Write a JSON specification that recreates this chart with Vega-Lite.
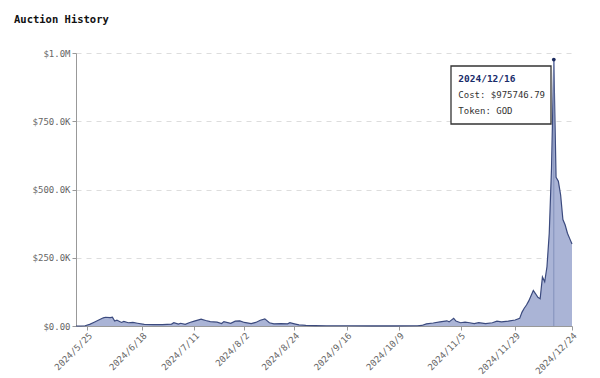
{
  "$schema": "https://vega.github.io/schema/vega-lite/v6.json",
  "width": 496,
  "height": 273,
  "autosize": {"type": "none"},
  "padding": {"left": 76, "top": 53, "right": 28, "bottom": 52},
  "background": "white",
  "title": {
    "text": "Auction History",
    "anchor": "start",
    "frame": "group",
    "dx": -62,
    "offset": 24,
    "font": "DejaVu Sans Mono",
    "fontSize": 10.5,
    "fontWeight": "bold",
    "color": "#111111"
  },
  "config": {
    "view": {"stroke": null},
    "axis": {
      "labelFont": "DejaVu Sans Mono",
      "labelColor": "#666666",
      "domainColor": "#999999",
      "tickColor": "#999999",
      "tickSize": 4,
      "labelPadding": 2
    }
  },
  "data": {
    "values": [
      {"date": "2024-05-20", "cost": 0},
      {"date": "2024-05-22", "cost": 0},
      {"date": "2024-05-24", "cost": 1000},
      {"date": "2024-05-26", "cost": 6000},
      {"date": "2024-05-28", "cost": 14000},
      {"date": "2024-05-30", "cost": 22000},
      {"date": "2024-06-01", "cost": 30000},
      {"date": "2024-06-02", "cost": 32000},
      {"date": "2024-06-04", "cost": 31000},
      {"date": "2024-06-05", "cost": 32000},
      {"date": "2024-06-06", "cost": 18000},
      {"date": "2024-06-07", "cost": 21000},
      {"date": "2024-06-09", "cost": 13000},
      {"date": "2024-06-10", "cost": 17000},
      {"date": "2024-06-12", "cost": 12000},
      {"date": "2024-06-14", "cost": 13000},
      {"date": "2024-06-16", "cost": 10000},
      {"date": "2024-06-19", "cost": 6000},
      {"date": "2024-06-23", "cost": 5000},
      {"date": "2024-06-27", "cost": 5000},
      {"date": "2024-07-01", "cost": 7000},
      {"date": "2024-07-02", "cost": 12000},
      {"date": "2024-07-04", "cost": 7000},
      {"date": "2024-07-05", "cost": 10000},
      {"date": "2024-07-07", "cost": 6000},
      {"date": "2024-07-09", "cost": 13000},
      {"date": "2024-07-11", "cost": 18000},
      {"date": "2024-07-14", "cost": 25000},
      {"date": "2024-07-16", "cost": 20000},
      {"date": "2024-07-18", "cost": 16000},
      {"date": "2024-07-21", "cost": 14000},
      {"date": "2024-07-23", "cost": 9000},
      {"date": "2024-07-24", "cost": 16000},
      {"date": "2024-07-27", "cost": 10000},
      {"date": "2024-07-29", "cost": 18000},
      {"date": "2024-07-31", "cost": 19000},
      {"date": "2024-08-02", "cost": 13000},
      {"date": "2024-08-05", "cost": 9000},
      {"date": "2024-08-07", "cost": 13000},
      {"date": "2024-08-09", "cost": 21000},
      {"date": "2024-08-11", "cost": 26000},
      {"date": "2024-08-13", "cost": 12000},
      {"date": "2024-08-15", "cost": 8000},
      {"date": "2024-08-18", "cost": 9000},
      {"date": "2024-08-21", "cost": 8000},
      {"date": "2024-08-22", "cost": 12000},
      {"date": "2024-08-24", "cost": 8000},
      {"date": "2024-08-26", "cost": 4000},
      {"date": "2024-08-29", "cost": 2000},
      {"date": "2024-09-02", "cost": 1500},
      {"date": "2024-09-07", "cost": 1000},
      {"date": "2024-09-17", "cost": 1000},
      {"date": "2024-09-27", "cost": 800},
      {"date": "2024-10-07", "cost": 800},
      {"date": "2024-10-17", "cost": 1000},
      {"date": "2024-10-19", "cost": 2000},
      {"date": "2024-10-21", "cost": 8000},
      {"date": "2024-10-24", "cost": 11000},
      {"date": "2024-10-27", "cost": 15000},
      {"date": "2024-10-30", "cost": 19000},
      {"date": "2024-10-31", "cost": 15000},
      {"date": "2024-11-02", "cost": 28000},
      {"date": "2024-11-03", "cost": 18000},
      {"date": "2024-11-05", "cost": 12000},
      {"date": "2024-11-07", "cost": 14000},
      {"date": "2024-11-09", "cost": 12000},
      {"date": "2024-11-11", "cost": 9000},
      {"date": "2024-11-13", "cost": 12000},
      {"date": "2024-11-16", "cost": 9000},
      {"date": "2024-11-19", "cost": 12000},
      {"date": "2024-11-21", "cost": 18000},
      {"date": "2024-11-23", "cost": 15000},
      {"date": "2024-11-26", "cost": 18000},
      {"date": "2024-11-29", "cost": 22000},
      {"date": "2024-12-01", "cost": 28000},
      {"date": "2024-12-02", "cost": 50000},
      {"date": "2024-12-03", "cost": 65000},
      {"date": "2024-12-04", "cost": 77000},
      {"date": "2024-12-05", "cost": 92000},
      {"date": "2024-12-07", "cost": 130000},
      {"date": "2024-12-08", "cost": 118000},
      {"date": "2024-12-09", "cost": 105000},
      {"date": "2024-12-10", "cost": 100000},
      {"date": "2024-12-11", "cost": 180000},
      {"date": "2024-12-12", "cost": 162000},
      {"date": "2024-12-13", "cost": 217000},
      {"date": "2024-12-14", "cost": 340000},
      {"date": "2024-12-15", "cost": 580000},
      {"date": "2024-12-16", "cost": 975746.79, "token": "GOD"},
      {"date": "2024-12-17", "cost": 545000},
      {"date": "2024-12-18", "cost": 530000},
      {"date": "2024-12-19", "cost": 480000},
      {"date": "2024-12-20", "cost": 390000},
      {"date": "2024-12-21", "cost": 370000},
      {"date": "2024-12-22", "cost": 340000},
      {"date": "2024-12-23", "cost": 320000},
      {"date": "2024-12-24", "cost": 300000}
    ]
  },
  "encoding": {
    "x": {
      "field": "date",
      "type": "temporal",
      "title": null,
      "scale": {
        "type": "utc",
        "nice": false,
        "domain": [
          {"year": 2024, "month": 5, "date": 20, "utc": true},
          {"year": 2024, "month": 12, "date": 24, "utc": true}
        ]
      },
      "axis": {
        "values": [
          {"year": 2024, "month": 5, "date": 25, "utc": true},
          {"year": 2024, "month": 6, "date": 18, "utc": true},
          {"year": 2024, "month": 7, "date": 11, "utc": true},
          {"year": 2024, "month": 8, "date": 2, "utc": true},
          {"year": 2024, "month": 8, "date": 24, "utc": true},
          {"year": 2024, "month": 9, "date": 16, "utc": true},
          {"year": 2024, "month": 10, "date": 9, "utc": true},
          {"year": 2024, "month": 11, "date": 5, "utc": true},
          {"year": 2024, "month": 11, "date": 29, "utc": true},
          {"year": 2024, "month": 12, "date": 24, "utc": true}
        ],
        "format": "%Y/%-m/%-d",
        "labelAngle": -45,
        "labelFontSize": 9,
        "labelPadding": 1,
        "grid": false,
        "labelOverlap": false,
        "labelBound": false,
        "labelFlush": false
      }
    },
    "y": {
      "field": "cost",
      "type": "quantitative",
      "title": null,
      "scale": {"domain": [0, 1000000], "nice": false},
      "axis": {
        "values": [0, 250000, 500000, 750000, 1000000],
        "labelExpr": "datum.value == 0 ? '$0.00' : datum.value >= 1000000 ? '$' + format(datum.value / 1000000, '.1f') + 'M' : '$' + format(datum.value / 1000, '.1f') + 'K'",
        "labelFontSize": 9,
        "grid": true,
        "gridColor": "#dddddd",
        "gridDash": [5, 5]
      }
    }
  },
  "layer": [
    {
      "mark": {"type": "area", "color": "#aab4d6", "opacity": 1, "interpolate": "linear"}
    },
    {
      "mark": {"type": "line", "color": "#3b4a7e", "strokeWidth": 1.2, "interpolate": "linear"}
    },
    {
      "transform": [{"filter": "datum.token == 'GOD'"}],
      "mark": {"type": "rule", "color": "#8290bb", "strokeWidth": 1},
      "encoding": {"y2": {"datum": 0}}
    },
    {
      "transform": [{"filter": "datum.token == 'GOD'"}],
      "mark": {"type": "point", "filled": true, "color": "#1b2a5e", "size": 14, "opacity": 1}
    },
    {
      "transform": [{"filter": "datum.token == 'GOD'"}],
      "mark": {
        "type": "point",
        "shape": "M-2.056,0.128H-0.056V1.288H-2.056Z",
        "size": 10000,
        "filled": false,
        "fill": "white",
        "fillOpacity": 1,
        "stroke": "#333333",
        "strokeWidth": 1.3,
        "opacity": 1
      }
    },
    {
      "transform": [{"filter": "datum.token == 'GOD'"}],
      "mark": {"type": "text", "text": "2024/12/16", "align": "left", "baseline": "middle", "dx": -95.5, "dy": 19.7, "font": "DejaVu Sans Mono", "fontSize": 9.5, "fontWeight": "bold", "color": "#1a2d6b"}
    },
    {
      "transform": [{"filter": "datum.token == 'GOD'"}],
      "mark": {"type": "text", "text": "Cost: $975746.79", "align": "left", "baseline": "middle", "dx": -95.5, "dy": 35.6, "font": "DejaVu Sans Mono", "fontSize": 9, "color": "#333333"}
    },
    {
      "transform": [{"filter": "datum.token == 'GOD'"}],
      "mark": {"type": "text", "text": "Token: GOD", "align": "left", "baseline": "middle", "dx": -95.5, "dy": 51.8, "font": "DejaVu Sans Mono", "fontSize": 9, "color": "#333333"}
    }
  ]
}
